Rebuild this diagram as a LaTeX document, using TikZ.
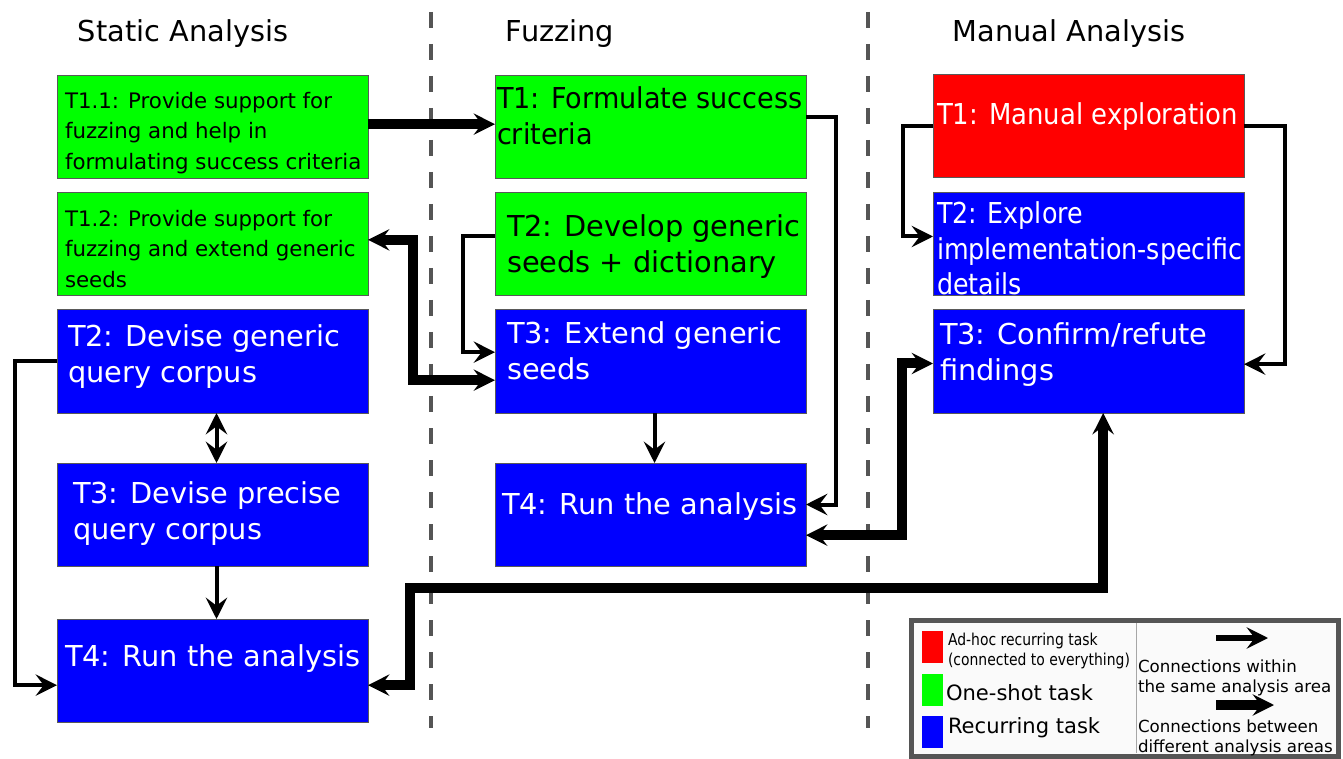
\documentclass[tikz,border=0pt]{standalone}
\usepackage{fontspec}
\setmainfont{DejaVu Sans}
\newfontfamily\slimfont[FakeStretch=0.94]{DejaVu Sans}
\newfontfamily\narrowfont[FakeStretch=0.9]{DejaVu Sans}
\newfontfamily\tightfont[FakeStretch=0.88]{DejaVu Sans}
\newfontfamily\legendfont[FakeStretch=0.85]{DejaVu Sans}
\usepackage[HTML]{xcolor}
\usepackage{tikz}
\usetikzlibrary{positioning, arrows.meta}

\definecolor{oneshot}{HTML}{00FF00}
\definecolor{recurring}{HTML}{0000FF}
\definecolor{adhoc}{HTML}{FF0000}
\definecolor{divgray}{HTML}{555555}

\begin{document}
\begin{tikzpicture}[
    x=0.75pt, y=-0.75pt, % one unit is one pixel, y runs downwards
    >={Stealth[length=16pt, width=16pt, inset=6pt]}, % one tip for all connectors
    every node/.style={inner sep=0pt, outer sep=0pt},
    task/.style={draw=black!65, line width=0.75pt, minimum width=233.25pt, minimum height=77.25pt},
    bigtext/.style={anchor=north west, align=left, font=\fontsize{21.6pt}{26.4pt}\selectfont},
    smalltext/.style={anchor=north west, align=left, font=\fontsize{16pt}{23pt}\selectfont},
    inner/.style={->, line width=3pt},   % within one analysis area
    outer/.style={->, line width=7.5pt}, % between analysis areas
    divider/.style={draw=divgray, line width=3pt, dash pattern=on 12pt off 12pt}
]
    \useasboundingbox (0,0) rectangle (1343,759);

    % 0. Column headers and the dashed separators
    \node[font=\fontsize{21.6pt}{26pt}\selectfont] (hstatic) at (183,34) {Static Analysis};
    \node[font=\fontsize{21.6pt}{26pt}\selectfont] (hfuzz) at (560,34) {Fuzzing};
    \node[font=\fontsize{21.6pt}{26pt}\selectfont] (hmanual) at (1069,34) {Manual Analysis};
    \draw[divider] (431,12) -- (431,728);
    \draw[divider] (868,12) -- (868,728);

    % 1. Static analysis boxes
    \node[task, fill=oneshot, anchor=north west] (s11) at (57,76) {};
    \node[task, fill=oneshot, below=10.5pt of s11] (s12) {};
    \node[task, fill=recurring, below=10.5pt of s12] (s2) {};
    \node[task, fill=recurring, below=37.5pt of s2] (s3) {};
    \node[task, fill=recurring, below=39.75pt of s3] (s4) {};

    \node[smalltext] (s11t) at ([shift={(8,16)}]s11.north west) {T1.1: Provide support for\\fuzzing and help in\\formulating success criteria};
    \node[smalltext] (s12t) at ([shift={(8,17)}]s12.north west) {T1.2: Provide support for\\fuzzing and extend generic\\seeds};
    \node[bigtext, text=white] (s2t) at ([shift={(11,15)}]s2.north west) {T2: Devise generic\\query corpus};
    \node[bigtext, text=white] (s3t) at ([shift={(16,19)}]s3.north west) {T3: Devise precise\\query corpus};
    \node[bigtext, text=white] (s4t) at ([shift={(8,26)}]s4.north west) {T4: Run the analysis};

    % 2. Fuzzing boxes
    \node[task, fill=oneshot, anchor=north west] (f1) at (495,76) {};
    \node[task, fill=oneshot, below=10.5pt of f1] (f2) {};
    \node[task, fill=recurring, below=10.5pt of f2] (f3) {};
    \node[task, fill=recurring, below=37.5pt of f3] (f4) {};

    \node[bigtext, font=\slimfont\fontsize{21.6pt}{26.4pt}\selectfont] (f1t) at ([shift={(2,11)}]f1.north west) {T1: Formulate success\\criteria};
    \node[bigtext] (f2t) at ([shift={(12,22)}]f2.north west) {T2: Develop generic\\seeds + dictionary};
    \node[bigtext, text=white] (f3t) at ([shift={(12,12)}]f3.north west) {T3: Extend generic\\seeds};
    \node[bigtext, text=white] (f4t) at ([shift={(7,30)}]f4.north west) {T4: Run the analysis};

    % 3. Manual analysis boxes
    \node[task, fill=adhoc, anchor=north west] (m1) at (933,75) {};
    \node[task, fill=recurring, below=11.25pt of m1] (m2) {};
    \node[task, fill=recurring, below=10.5pt of m2] (m3) {};

    \node[bigtext, text=white, font=\narrowfont\fontsize{21.6pt}{26.4pt}\selectfont] (m1t) at ([shift={(4,28)}]m1.north west) {T1: Manual exploration};
    \node[bigtext, text=white, font=\tightfont\fontsize{21.6pt}{26.6pt}\selectfont] (m2t) at ([shift={(4,9)}]m2.north west) {T2: Explore\\implementation-specific\\details};
    \node[bigtext, text=white] (m3t) at ([shift={(7,13)}]m3.north west) {T3: Confirm/refute\\findings};

    % 4. Thin connectors (same analysis area)
    \draw[inner] (s2.west) -- ++(-42,0) |- ([yshift=-11pt]s4.west);
    \draw[inner, <->] ([xshift=3pt]s2.south) -- ([xshift=3pt]s3.north);
    \draw[inner] ([xshift=3pt]s3.south) -- ([xshift=3pt]s4.north);
    \draw[inner] ([yshift=7.5pt]f1.east) -- ++(30,0) |- ([yshift=7.5pt]f4.east);
    \draw[inner] ([yshift=6pt]f2.west) -- ++(-32,0) |- ([yshift=7pt]f3.west);
    \draw[inner] ([xshift=3pt]f3.south) -- ([xshift=3pt]f4.north);
    \draw[inner] (m1.west) -- ++(-30,0) |- ([yshift=6pt]m2.west);
    \draw[inner] (m1.east) -- ++(41,0) |- ([yshift=-2pt]m3.east);

    % 5. Thick connectors (between analysis areas)
    \draw[outer] ([yshift=2.5pt]s11.east) -- ([yshift=2.5pt]f1.west);
    \draw[outer, <->] ([yshift=3.5pt]s12.east) -- ++(45,0) |- ([yshift=-14pt]f3.west);
    \draw[outer, <->] ([yshift=-15.5pt]f4.east) -- ++(96,0) |- ([yshift=-1.5pt]m3.west);
    \draw[outer, <->] ([yshift=-11pt]s4.east) -- ++(42,0) -- ++(0,-97) -| ([xshift=11pt]m3.south);

    % 6. Legend
    \draw[draw=divgray, line width=3.75pt, fill=white!98!black] (911,620) rectangle (1338,756);
    \draw[black!35, line width=0.5pt] (1136,623) -- (1136,753);
    \node[fill=adhoc, minimum width=15.75pt, minimum height=24pt, anchor=north west] (kadhoc) at (922,631) {};
    \node[fill=oneshot, minimum width=15.75pt, minimum height=24pt, anchor=north west] (koneshot) at (922,674) {};
    \node[fill=recurring, minimum width=15.75pt, minimum height=24pt, anchor=north west] (krecur) at (922,716) {};
    \node[anchor=north west, align=left, font=\legendfont\fontsize{12.3pt}{15pt}\selectfont] (ladhoc) at (948,633) {Ad-hoc recurring task\\(connected to everything)};
    \node[anchor=north west, font=\fontsize{15.8pt}{19pt}\selectfont] (loneshot) at (946,684) {One-shot task};
    \node[anchor=north west, font=\fontsize{15.8pt}{19pt}\selectfont] (lrecur) at (948,717) {Recurring task};
    \node[anchor=north west, align=left, font=\fontsize{12.5pt}{15pt}\selectfont] (lwithin) at (1138,660) {Connections within\\the same analysis area};
    \node[anchor=north west, align=left, font=\fontsize{12.5pt}{15pt}\selectfont] (lbetween) at (1138,720) {Connections between\\different analysis areas};

    \coordinate (lthinA) at (1216,638);
    \coordinate (lthinB) at (1268,638);
    \draw[inner, line width=4.5pt] (lthinA) -- (lthinB);
    \coordinate (lthickA) at (1216,705);
    \coordinate (lthickB) at (1274,705);
    \draw[outer] (lthickA) -- (lthickB);

\end{tikzpicture}
\end{document}
